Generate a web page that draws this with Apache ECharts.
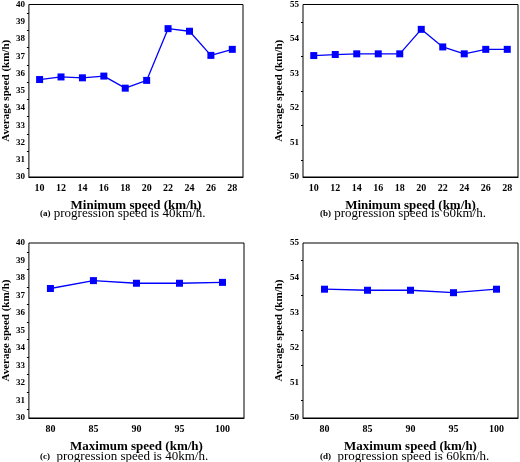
<!DOCTYPE html><html><head><meta charset="utf-8"><script src="https://cdn.jsdelivr.net/npm/echarts@6/dist/echarts.min.js"></script></head><body style="margin:0"><div id="c" style="width:520px;height:462px"></div><script>
const minCats=['10','12','14','16','18','20','22','24','26','28'];
const maxCats=['80','85','90','95','100'];
const seriesA=[35.65,35.8,35.75,35.85,35.15,35.6,38.6,38.45,37.05,37.4];
const seriesB=[53.52,53.55,53.57,53.57,53.57,54.28,53.77,53.57,53.7,53.7];
const seriesC=[37.4,37.85,37.7,37.7,37.75];
const seriesD=[53.68,53.65,53.65,53.58,53.68];
const F='Liberation Serif';
const grids=[{left:28,top:3,width:215,height:174},{left:303,top:3,width:215,height:174},{left:28,top:243,width:216,height:175},{left:303,top:243,width:215,height:175}];
const lblX=['Minimum speed (km/h)','Minimum speed (km/h)','Maximum speed (km/h)','Maximum speed (km/h)'];
const cats=[minCats,minCats,maxCats,maxCats];
const yr=[[30,40,1],[50,55,1],[30,40,1],[50,55,1]];
const data=[seriesA,seriesB,seriesC,seriesD];
const caps=[['(a)',' progression speed is 40km/h.'],['(b)',' progression speed is 60km/h.'],['(c)','  progression speed is 40km/h.'],['(d)','  progression speed is 60km/h.']];
const capPos=[[40,207],[320,207],[40,450],[320,450]];
const ax={lineStyle:{color:'#000',width:1}};
const opt={animation:false,backgroundColor:'#fff',
grid:grids.map(g=>Object.assign({show:true,borderColor:'#000',borderWidth:1,backgroundColor:'transparent'},g)),
xAxis:grids.map((g,i)=>({type:'category',gridIndex:i,data:cats[i],boundaryGap:true,name:lblX[i],nameLocation:'middle',nameGap:22,nameTextStyle:{fontFamily:F,fontWeight:'bold',fontSize:13,color:'#000'},axisLine:ax,axisTick:{alignWithLabel:true,inside:false,length:3,lineStyle:{color:'#000'}},axisLabel:{fontFamily:F,fontWeight:'bold',fontSize:10,color:'#000',margin:6}})),
yAxis:grids.map((g,i)=>({type:'value',gridIndex:i,min:yr[i][0],max:yr[i][1],interval:yr[i][2],name:'Average speed (km/h)',nameLocation:'middle',nameGap:i%2?18:16,nameTextStyle:{fontFamily:F,fontWeight:'bold',fontSize:11,color:'#000'},axisLine:ax,axisTick:{length:3,lineStyle:{color:'#000'}},minorTick:{show:true,splitNumber:2,length:2,lineStyle:{color:'#000'}},splitLine:{show:false},axisLabel:{fontFamily:F,fontWeight:'bold',fontSize:9,color:'#000',margin:4}})),
series:data.map((d,i)=>({type:'line',xAxisIndex:i,yAxisIndex:i,data:d,symbol:'rect',symbolSize:7,itemStyle:{color:'#0000ff'},lineStyle:{color:'#0000ff',width:1.3}})),
graphic:caps.map((c,i)=>({type:'text',left:capPos[i][0],top:capPos[i][1],style:{rich:{b:{fontFamily:F,fontWeight:'bold',fontSize:9,fill:'#000'},n:{fontFamily:F,fontSize:13,fill:'#000'}},text:'{b|'+c[0]+'}{n|'+c[1]+'}'}}))
};
echarts.init(document.getElementById('c')).setOption(opt);
</script></body></html>
